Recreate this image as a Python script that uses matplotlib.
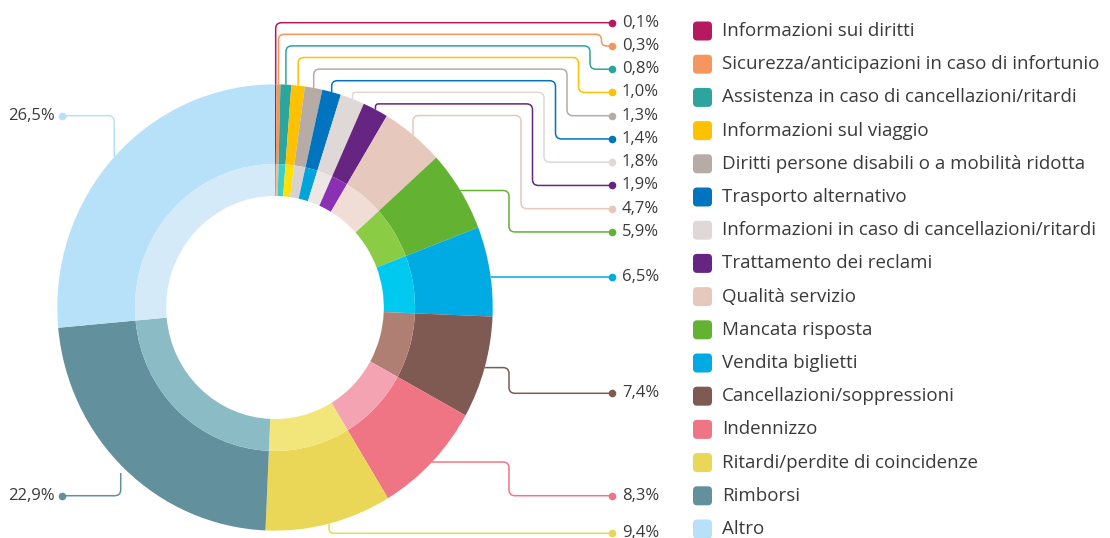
import matplotlib
matplotlib.use('Agg')
import matplotlib.pyplot as plt
from matplotlib.path import Path
from matplotlib.patches import PathPatch, FancyBboxPatch
import numpy as np

# data
categories = [
    'Informazioni sui diritti',
    'Sicurezza/anticipazioni in caso di infortunio',
    'Assistenza in caso di cancellazioni/ritardi',
    'Informazioni sul viaggio',
    'Diritti persone disabili o a mobilità ridotta',
    'Trasporto alternativo',
    'Informazioni in caso di cancellazioni/ritardi',
    'Trattamento dei reclami',
    'Qualità servizio',
    'Mancata risposta',
    'Vendita biglietti',
    'Cancellazioni/soppressioni',
    'Indennizzo',
    'Ritardi/perdite di coincidenze',
    'Rimborsi',
    'Altro',
]
shares = [0.1, 0.3, 0.8, 1.0, 1.3, 1.4, 1.8, 1.9, 4.7, 5.9, 6.5, 7.4, 8.3, 9.4, 22.9, 26.5]

outer_colors = ['#B5195E', '#F4965E', '#2BA59E', '#FCC200', '#B6ABA5', '#0074BF',
                '#DFD8D6', '#662483', '#E6C8BC', '#63B232', '#00AAE2', '#7E5A52',
                '#EF7584', '#EAD657', '#62919D', '#B7E1F8']
inner_colors = ['#D64D8A', '#F9B895', '#3CCFC5', '#FFE100', '#D8D2CE', '#00A3DC',
                '#ECE6E4', '#8B2FB5', '#F0DDD5', '#8ACD45', '#00C9EF', '#AE7F72',
                '#F4A3B2', '#F2E57A', '#8BBBC5', '#D4EAF9']

plt.rcParams['font.family'] = ['Open Sans', 'DejaVu Sans']
txt_color = '#3a3a3a'

W, H = 1110, 538
K = 1.025          # ring is a bit taller than wide in the original
cx, cy = 275, 307.5
r_out, r_mid, r_in = 217.7, 140.0, 108.8

fig = plt.figure(figsize=(W / 100, H / 100), dpi=100)
ax = fig.add_axes([0, 0, 1, 1])
ax.pie(shares, radius=r_out, center=(cx, (H - cy) / K), startangle=90, counterclock=False,
       colors=outer_colors, wedgeprops=dict(width=r_out - r_mid, linewidth=0), frame=True)
ax.pie(shares, radius=r_mid, center=(cx, (H - cy) / K), startangle=90, counterclock=False,
       colors=inner_colors, wedgeprops=dict(width=r_mid - r_in, linewidth=0), frame=True)
ax.set_xlim(0, W)
ax.set_ylim(0, H / K)
ax.set_aspect('auto')
ax.axis('off')

# overlay in pixel coords (y down) for leaders, labels, legend
ov = fig.add_axes([0, 0, 1, 1])
ov.set_xlim(0, W)
ov.set_ylim(H, 0)
ov.axis('off')
ov.patch.set_alpha(0)


def rounded(points, r=6):
    verts = [points[0]]
    codes = [Path.MOVETO]
    for a, b, c in zip(points[:-2], points[1:-1], points[2:]):
        a, b, c = np.array(a, float), np.array(b, float), np.array(c, float)
        d1 = b - a
        d2 = c - b
        l1 = np.hypot(*d1)
        l2 = np.hypot(*d2)
        rr = min(r, l1 / 2, l2 / 2)
        verts += [b - d1 / l1 * rr, b, b + d2 / l2 * rr]
        codes += [Path.LINETO, Path.CURVE3, Path.CURVE3]
    verts.append(points[-1])
    codes.append(Path.LINETO)
    return Path(verts, codes)


def pct(v):
    return f'{v:.1f}'.replace('.', ',') + '%'


tot = sum(shares)
cum = np.cumsum([0] + shares[:-1])
theta = np.radians((cum + np.array(shares) / 2) / tot * 360)
ex = cx + r_out * np.sin(theta)
ey = cy - r_out * K * np.cos(theta)

dot_r, text_r = 611.5, 622
dot_l, text_l = 62, 55
row0, row_step = 22.7, 23.25
low_rows = [277, 393.3, 495.7, 533.3]

for i in range(len(shares)):
    x0, y0 = ex[i], ey[i]
    if i < 9:
        ly = row0 + row_step * i
        if i == 0:
            pts = [(x0, y0), (x0, ly), (dot_r, ly)]
        else:
            ytop = min(row0 + 11.6 * i, y0 - 4)
            xturn = 613 - 11.5 * i
            pts = [(x0, y0), (x0, ytop), (xturn, ytop), (xturn, ly), (dot_r, ly)]
        side = 'r'
    elif i < 13:
        ly = row0 + row_step * 9 if i == 9 else low_rows[i - 10]
        if abs(ly - y0) < 10:
            xs = cx + r_out * np.sqrt(1 - ((ly - cy) / (r_out * K)) ** 2)
            pts = [(xs, ly), (dot_r, ly)]
        else:
            pts = [(x0, y0), (509, y0), (509, ly), (dot_r, ly)]
        side = 'r'
    elif i == 13:
        ly = low_rows[3]
        pts = [(x0, y0), (x0, ly), (dot_r, ly)]
        side = 'r'
    elif i == 14:
        ly = 495.7
        pts = [(x0 - 4, y0 + 4), (x0 - 4, ly), (dot_l, ly)]
        side = 'l'
    else:
        ly = 115.7
        pts = [(x0, y0), (x0, ly), (dot_l, ly)]
        side = 'l'

    col = outer_colors[i]
    ov.add_patch(PathPatch(rounded(pts), fill=False, edgecolor=col, lw=1.1, capstyle='butt'))
    if side == 'r':
        ov.plot(dot_r, ly, 'o', ms=5.5, color=col, mec='none')
        ov.text(text_r, ly, pct(shares[i]), ha='left', va='center', fontsize=12, color=txt_color)
    else:
        ov.plot(dot_l, ly, 'o', ms=5.5, color=col, mec='none')
        ov.text(text_l, ly, pct(shares[i]), ha='right', va='center', fontsize=12, color=txt_color)

# legend
for i, name in enumerate(categories):
    yc = 31 + 33.2 * i
    ov.add_patch(FancyBboxPatch((693, yc - 9.5), 19, 19,
                                boxstyle='round,pad=0,rounding_size=4',
                                facecolor=outer_colors[i], edgecolor='none'))
    ov.text(722, yc, name, ha='left', va='center', fontsize=13.5, color=txt_color)

fig.savefig('out.png', dpi=100)
